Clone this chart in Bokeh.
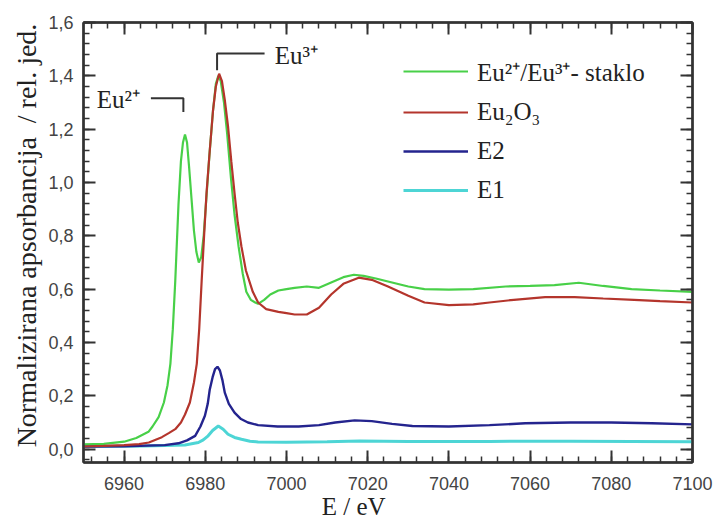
from bokeh.plotting import figure
from bokeh.models import (ColumnDataSource, Range1d, LinearAxis, FixedTicker,
                          CustomJSTickFormatter, Legend, LegendItem, Label)
from bokeh.embed import file_html
from bokeh.resources import INLINE

# ---------------- data ----------------
E_glass = [6950, 6955, 6960, 6963, 6966, 6967, 6968.5, 6969.8, 6970.7, 6971.4, 6972, 6972.6,
           6973.4, 6974, 6974.5, 6975, 6975.5, 6976, 6976.6, 6977.2, 6977.8, 6978.4, 6979,
           6979.6, 6980.3, 6981, 6981.9, 6982.6, 6983.2, 6983.8, 6984.6, 6985.4, 6986.3,
           6987.2, 6988.2, 6989.2, 6990.1, 6991.2, 6992.3, 6993, 6994.5, 6996, 6998, 7000,
           7002, 7005, 7008, 7011, 7014, 7016.6, 7019, 7022, 7026, 7030, 7034, 7040, 7046,
           7054, 7060, 7066, 7072, 7078, 7085, 7092, 7100]
mu_glass = [0.018, 0.020, 0.028, 0.042, 0.065, 0.085, 0.12, 0.175, 0.24, 0.32, 0.45, 0.63,
            0.92, 1.08, 1.15, 1.18, 1.15, 1.06, 0.94, 0.82, 0.74, 0.70, 0.72,
            0.80, 0.95, 1.10, 1.27, 1.37, 1.40, 1.38, 1.30, 1.18, 1.02,
            0.88, 0.76, 0.66, 0.59, 0.56, 0.55, 0.545, 0.56, 0.58, 0.595, 0.60,
            0.605, 0.61, 0.605, 0.625, 0.645, 0.654, 0.65, 0.64, 0.625, 0.61, 0.60, 0.598, 0.60,
            0.61, 0.612, 0.615, 0.624, 0.612, 0.60, 0.595, 0.59]

E_oxide = [6950, 6955, 6960, 6963.7, 6966.1, 6969.3, 6971, 6972.6, 6974, 6975, 6976.2, 6977.2,
           6977.9, 6978.5, 6979.1, 6979.7, 6980.3, 6981.1, 6981.9, 6982.6, 6983.4, 6984.1,
           6984.8, 6985.6, 6986.4, 6987.2, 6988, 6988.9, 6990, 6991.7, 6993, 6995, 6998, 7000,
           7002, 7005, 7008, 7011, 7014, 7017.8, 7021, 7025, 7030, 7034, 7040, 7046, 7050,
           7056, 7063.7, 7071, 7078, 7085.6, 7092, 7100]
mu_oxide = [0.010, 0.012, 0.015, 0.019, 0.025, 0.045, 0.06, 0.075, 0.10, 0.13, 0.175, 0.25,
            0.32, 0.45, 0.63, 0.80, 0.96, 1.12, 1.27, 1.36, 1.408, 1.38,
            1.31, 1.21, 1.08, 0.96, 0.85, 0.76, 0.67, 0.59, 0.55, 0.525, 0.515, 0.51,
            0.505, 0.505, 0.53, 0.58, 0.62, 0.643, 0.635, 0.61, 0.575, 0.55, 0.54, 0.543, 0.55,
            0.56, 0.57, 0.57, 0.565, 0.56, 0.555, 0.55]

E_e2 = [6950, 6960, 6970, 6973.4, 6975.5, 6977.5, 6978.8, 6979.9, 6980.6, 6981.1, 6981.8,
        6982.4, 6983, 6983.6, 6984.2, 6984.8, 6985.8, 6987.2, 6988.8, 6990.5, 6993, 6997.8,
        7003, 7008, 7012, 7016.8, 7021, 7026, 7031, 7040, 7050, 7058.8, 7070, 7080, 7090, 7100]
mu_e2 = [0.010, 0.011, 0.015, 0.022, 0.033, 0.05, 0.085, 0.125, 0.17, 0.224, 0.27,
         0.30, 0.309, 0.295, 0.26, 0.212, 0.17, 0.137, 0.113, 0.10, 0.09, 0.085,
         0.085, 0.09, 0.10, 0.108, 0.105, 0.095, 0.087, 0.085, 0.09, 0.097, 0.10, 0.10, 0.097, 0.093]

E_e1 = [6950, 6965, 6975, 6978.3, 6979.5, 6980.7, 6981.8, 6983.2, 6984.4, 6985.6, 6987.2,
        6988.9, 6991, 6993, 7000, 7010, 7018, 7030, 7050, 7070, 7100]
mu_e1 = [0.010, 0.012, 0.016, 0.025, 0.035, 0.05, 0.07, 0.087, 0.075, 0.056, 0.044,
         0.037, 0.030, 0.027, 0.026, 0.028, 0.031, 0.029, 0.029, 0.030, 0.028]

series_names = ["Eu²⁺/Eu³⁺- staklo", "Eu₂O₃", "E2", "E1"]
series_colors = ["#48d048", "#b4352c", "#24248e", "#4dd5d5"]

x_major = [6960, 6980, 7000, 7020, 7040, 7060, 7080, 7100]
x_minor = [6952 + 4 * i for i in range(38)]
y_major = [0.0, 0.2, 0.4, 0.6, 0.8, 1.0, 1.2, 1.4, 1.6]
y_minor = [round(-0.04 + 0.04 * i, 2) for i in range(42)]

# annotation anchors (data units)
eu2_bracket_x = [6966.6, 6974.6, 6974.6]
eu2_bracket_y = [1.316, 1.316, 1.264]
eu3_bracket_x = [6982.9, 6982.9, 6994.6]
eu3_bracket_y = [1.421, 1.484, 1.484]
eu2_label = ("Eu²⁺", 6963.9, 1.312)
eu3_label = ("Eu³⁺", 6997.1, 1.477)
x_label = "E / eV" + "\u00a0" * 11
y_label = "\u00a0\u00a0Normalizirana apsorbancija \u00a0/ rel. jed."

# ---------------- figure ----------------
p = figure(width=713, height=522, output_backend="svg", toolbar_location=None,
           x_range=Range1d(6950, 7100), y_range=Range1d(-0.05, 1.6),
           min_border_left=83, min_border_right=21, min_border_top=22, min_border_bottom=59,
           background_fill_color="white", border_fill_color="white")
p.grid.visible = False
p.outline_line_color = "#333333"
p.outline_line_width = 2

AXC = "#333333"
def style_axis(ax, show_labels):
    ax.axis_line_color = AXC
    ax.axis_line_width = 2.5
    ax.major_tick_line_color = AXC
    ax.minor_tick_line_color = AXC
    ax.major_tick_line_width = 2
    ax.minor_tick_line_width = 1.5
    ax.major_tick_in = 12
    ax.major_tick_out = 0
    ax.minor_tick_in = 6
    ax.minor_tick_out = 0
    if show_labels:
        ax.major_label_text_font = "Liberation Sans"
        ax.major_label_text_font_size = "18px"
        ax.major_label_text_color = "#444444"
    else:
        ax.formatter = CustomJSTickFormatter(code="return '';")
        ax.major_label_text_font_size = "1px"
        ax.major_label_standoff = 0

xt = FixedTicker(ticks=x_major, minor_ticks=x_minor)
yt = FixedTicker(ticks=y_major, minor_ticks=y_minor)
yfmt = CustomJSTickFormatter(code="return tick.toFixed(1).replace('.', ',');")

p.xaxis.ticker = xt
p.yaxis.ticker = yt
p.yaxis.formatter = yfmt
style_axis(p.xaxis[0], True)
style_axis(p.yaxis[0], True)
p.xaxis.major_label_standoff = 14
p.yaxis.major_label_standoff = 10

p.yaxis.axis_label = y_label
p.yaxis.axis_label_text_font = "Liberation Serif"
p.yaxis.axis_label_text_font_size = "28px"
p.yaxis.axis_label_text_font_style = "normal"
p.yaxis.axis_label_text_color = "#222222"
p.yaxis.axis_label_standoff = 3

p.xaxis.axis_label = x_label
p.xaxis.axis_label_text_font = "Liberation Serif"
p.xaxis.axis_label_text_font_size = "25px"
p.xaxis.axis_label_text_font_style = "normal"
p.xaxis.axis_label_text_color = "#222222"
p.xaxis.axis_label_standoff = 0

top = LinearAxis(ticker=xt)
right = LinearAxis(ticker=yt)
style_axis(top, False)
style_axis(right, False)
p.add_layout(top, "above")
p.add_layout(right, "right")

# ---------------- lines ----------------
src = [ColumnDataSource(dict(x=E_glass, y=mu_glass)),
       ColumnDataSource(dict(x=E_oxide, y=mu_oxide)),
       ColumnDataSource(dict(x=E_e2, y=mu_e2)),
       ColumnDataSource(dict(x=E_e1, y=mu_e1))]
widths = [2.2, 2.2, 2.4, 3.0]
order = [3, 2, 0, 1]
renderers = {}
for i in order:
    renderers[i] = p.line("x", "y", source=src[i], line_color=series_colors[i],
                          line_width=widths[i])

legend = Legend(items=[LegendItem(label=series_names[i], renderers=[renderers[i]]) for i in range(4)],
                location=(320, 257), padding=0, margin=0, spacing=9,
                glyph_width=65, glyph_height=30, label_height=30, label_standoff=9,
                label_text_font="Liberation Serif", label_text_font_size="25px",
                label_text_color="#222222", background_fill_alpha=0, border_line_color=None)
p.add_layout(legend)

# ---------------- annotations ----------------
p.line(eu2_bracket_x, eu2_bracket_y, line_color="#333333", line_width=2)
p.line(eu3_bracket_x, eu3_bracket_y, line_color="#333333", line_width=2)
p.add_layout(Label(x=eu2_label[1], y=eu2_label[2], text=eu2_label[0], text_align="right",
                   text_baseline="middle", text_font="Liberation Serif",
                   text_font_size="25px", text_color="#222222"))
p.add_layout(Label(x=eu3_label[1], y=eu3_label[2], text=eu3_label[0], text_align="left",
                   text_baseline="middle", text_font="Liberation Serif",
                   text_font_size="25px", text_color="#222222"))

open("out.html", "w").write(file_html(p, INLINE))
